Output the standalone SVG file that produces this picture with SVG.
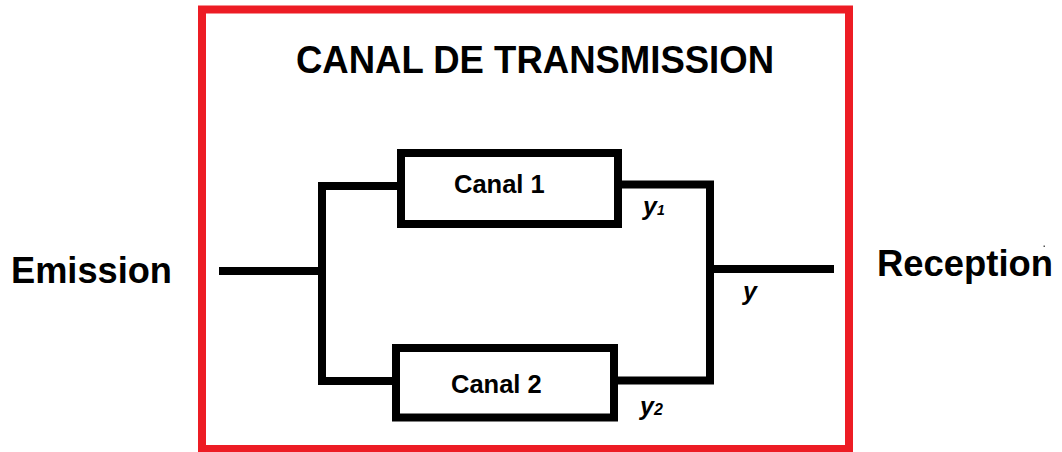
<svg xmlns="http://www.w3.org/2000/svg" width="1062" height="452" viewBox="0 0 1062 452">
  <style>
    .wire { fill: none; stroke: #000; stroke-width: 8; stroke-linecap: butt; stroke-linejoin: miter; }
    .box { fill: #fff; stroke: #000; stroke-width: 8; }
    .lbl { font-family: "Liberation Sans", Arial, sans-serif; font-weight: bold; fill: #000; }
    .var { font-family: "Liberation Sans", Arial, sans-serif; font-weight: bold; font-style: italic; fill: #000; }
  </style>
  <rect width="1062" height="452" fill="#fff"/>
  <g id="channel-frame">
    <rect x="202" y="9.5" width="647" height="439.5" fill="none" stroke="#ed1c24" stroke-width="8"/>
    <text class="lbl" x="296" y="73" font-size="38" textLength="478" lengthAdjust="spacingAndGlyphs">CANAL DE TRANSMISSION</text>
  </g>
  <g id="connectors">
    <path class="wire" d="M219,271 H322 M405,186 H322 V381 H396"/>
    <path class="wire" d="M618,184.5 H710 V380.5 H614 M710,269 H834"/>
  </g>
  <g id="emission">
    <text class="lbl" x="11" y="283" font-size="36.5" textLength="161" lengthAdjust="spacingAndGlyphs">Emission</text>
  </g>
  <g id="reception">
    <text class="lbl" x="877" y="276" font-size="36.5" textLength="176" lengthAdjust="spacingAndGlyphs">Reception</text>
  </g>
  <g id="canal1">
    <rect class="box" x="401" y="153" width="217" height="71"/>
    <text class="lbl" x="454" y="193" font-size="25.5">Canal 1</text>
  </g>
  <g id="canal2">
    <rect class="box" x="396" y="348" width="218" height="69.5"/>
    <text class="lbl" x="451" y="393" font-size="25.5">Canal 2</text>
  </g>
  <g id="labels">
    <text class="var" x="643" y="215" font-size="25">y<tspan font-size="14">1</tspan></text>
    <text class="var" x="640" y="415" font-size="25">y<tspan font-size="16">2</tspan></text>
    <text class="var" x="743" y="300" font-size="25">y</text>
  </g>
  <rect x="1043.5" y="245.5" width="1.5" height="1.5" fill="#555"/>
</svg>
